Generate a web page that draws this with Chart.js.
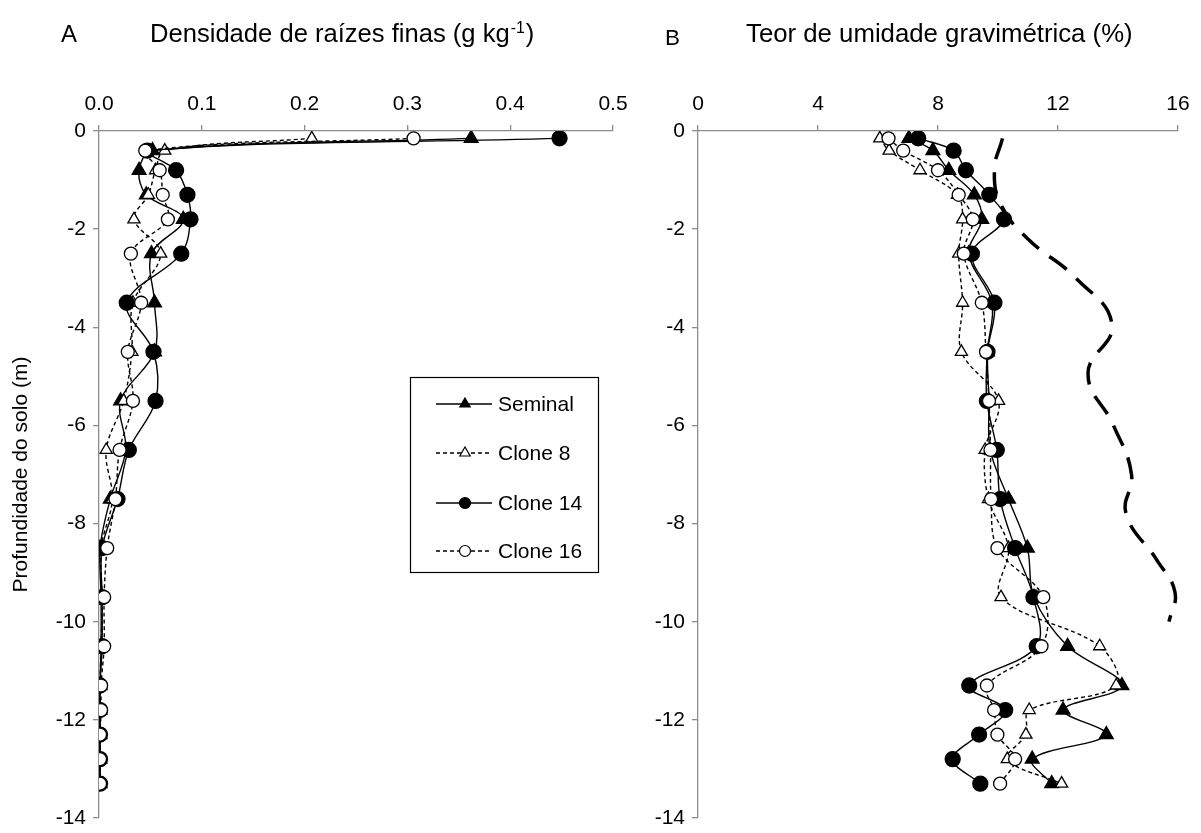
<!DOCTYPE html>
<html>
<head>
<meta charset="utf-8">
<script src="https://cdn.jsdelivr.net/npm/chart.js@4.4.1/dist/chart.umd.min.js"></script>
<style>
html, body { margin: 0; padding: 0; background: #fff; }
#chartA { position: absolute; left: 0; top: 0; }
#chartB { position: absolute; left: 640px; top: 0; }
</style>
</head>
<body>
<canvas id="chartA" width="640" height="833"></canvas>
<canvas id="chartB" width="561" height="833"></canvas>
<script>
// profundidades (m)
var depths = [-0.15, -0.4, -0.8, -1.3, -1.8, -2.5, -3.5, -4.5, -5.5, -6.5, -7.5, -8.5, -9.5, -10.5, -11.3, -11.8, -12.3, -12.8, -13.3];

// A - densidade de raizes finas (g kg-1)
var seminalA = [0.362, 0.052, 0.039, 0.046, 0.082, 0.051, 0.054, 0.054, 0.021, 0.026, 0.011, 0.001, 0.002, 0.002, 0.001, 0.001, 0.001, 0.001, 0.001];
var clone8A  = [0.207, 0.064, 0.055, 0.048, 0.034, 0.060, 0.033, 0.032, 0.024, 0.007, 0.013, 0.002, 0.003, 0.002, 0.001, 0.001, 0.001, 0.001, 0.001];
var clone14A = [0.448, 0.047, 0.075, 0.086, 0.089, 0.080, 0.027, 0.053, 0.055, 0.029, 0.018, 0.003, 0.003, 0.003, 0.001, 0.001, 0.001, 0.001, 0.001];
var clone16A = [0.306, 0.045, 0.059, 0.062, 0.067, 0.031, 0.041, 0.028, 0.033, 0.020, 0.016, 0.008, 0.005, 0.005, 0.002, 0.002, 0.001, 0.001, 0.001];

// B - umidade gravimetrica (%)
var seminalB = [7.03, 7.83, 8.36, 9.21, 9.46, 9.02, 9.80, 9.65, 9.70, 9.74, 10.35, 10.98, 11.20, 12.32, 14.13, 12.17, 13.61, 11.14, 11.79];
var clone8B  = [6.06, 6.37, 7.40, 8.65, 8.82, 8.69, 8.82, 8.78, 10.02, 9.57, 9.68, 10.35, 10.10, 13.39, 13.94, 11.04, 10.93, 10.31, 12.12];
var clone14B = [7.34, 8.52, 8.93, 9.71, 10.20, 9.13, 9.88, 9.65, 9.63, 9.96, 10.07, 10.57, 11.18, 11.29, 9.04, 10.24, 9.37, 8.49, 9.41];
var clone16B = [6.35, 6.84, 8.00, 8.69, 9.16, 8.86, 9.46, 9.60, 9.70, 9.75, 9.77, 9.98, 11.51, 11.45, 9.63, 9.87, 9.98, 10.57, 10.07];

// curva tracejada (sem legenda)
var curveX = [10.15, 9.88, 10.1, 11.0, 12.6, 13.8, 13.0, 13.85, 14.45, 14.27, 15.3, 15.9, 15.7];
var curveY = [-0.15, -0.8, -1.5, -2.2, -3.0, -3.95, -4.95, -6.0, -7.0, -7.8, -8.75, -9.4, -10.0];

var ticksA = [0, 0.1, 0.2, 0.3, 0.4, 0.5];
var ticksB = [0, 4, 8, 12, 16];
var ticksY = [0, -2, -4, -6, -8, -10, -12, -14];

var seriesNames = ['Seminal', 'Clone 8', 'Clone 14', 'Clone 16'];

var FONT = "'Liberation Sans', Arial, sans-serif";

function toPoints(xs, ys) {
    return xs.map(function(v, i) { return {x: v, y: ys[i]}; });
}

// estilo de cada serie
var styles = [
    {pointStyle: 'triangle', radius: 8, fill: '#000', dash: []},
    {pointStyle: 'triangle', radius: 7, fill: '#fff', dash: [4, 3]},
    {pointStyle: 'circle', radius: 7.5, fill: '#000', dash: []},
    {pointStyle: 'circle', radius: 6.5, fill: '#fff', dash: [4, 3]}
];

function makeDataset(i, xs) {
    var s = styles[i];
    return {
        label: seriesNames[i],
        data: toPoints(xs, depths),
        showLine: true,
        tension: 0.35,
        borderColor: '#000',
        borderWidth: 1.4,
        borderDash: s.dash,
        pointStyle: s.pointStyle,
        pointRadius: s.radius,
        pointBackgroundColor: s.fill,
        pointBorderColor: '#000',
        pointBorderWidth: 1.3,
        order: 4 - i
    };
}

function drawFitted(ctx, text, x, y, targetW, align) {
    ctx.font = '20px ' + FONT;
    var size = 20 * targetW / ctx.measureText(text).width;
    ctx.font = size + 'px ' + FONT;
    ctx.textAlign = align || 'left';
    ctx.fillText(text, x, y);
    return size;
}

function drawMarker(ctx, style, r, x, y) {
    ctx.beginPath();
    if (style === 'triangle') {
        var a = 0;
        ctx.moveTo(x + Math.sin(a) * r, y - Math.cos(a) * r);
        a += 2 * Math.PI / 3;
        ctx.lineTo(x + Math.sin(a) * r, y - Math.cos(a) * r);
        a += 2 * Math.PI / 3;
        ctx.lineTo(x + Math.sin(a) * r, y - Math.cos(a) * r);
        ctx.closePath();
    } else {
        ctx.arc(x, y, r, 0, Math.PI * 2);
    }
    ctx.fill();
    ctx.stroke();
}

var textPluginA = {
    id: 'textA',
    afterDraw: function(chart) {
        var ctx = chart.ctx;
        ctx.save();
        ctx.fillStyle = '#000';
        ctx.textBaseline = 'alphabetic';
        drawFitted(ctx, 'A', 61, 42, 16);
        var main = 'Densidade de raízes finas (g kg';
        var size = drawFitted(ctx, main, 150, 42, 360);
        var w = ctx.measureText(main).width;
        ctx.font = (size * 0.62) + 'px ' + FONT;
        ctx.textAlign = 'left';
        ctx.fillText('-1', 150 + w + 1, 33);
        var w2 = ctx.measureText('-1').width;
        ctx.font = size + 'px ' + FONT;
        ctx.fillText(')', 150 + w + w2 + 2, 42);

        // legenda
        ctx.strokeStyle = '#000';
        ctx.lineWidth = 1.2;
        ctx.strokeRect(410.5, 377.5, 188, 195);
        var rows = [404, 453, 503, 551];
        for (var i = 0; i < 4; i++) {
            var s = styles[i];
            ctx.setLineDash(s.dash);
            ctx.lineWidth = 1.3;
            ctx.beginPath();
            ctx.moveTo(436, rows[i]);
            ctx.lineTo(492, rows[i]);
            ctx.stroke();
            ctx.setLineDash([]);
            ctx.fillStyle = s.fill;
            ctx.lineWidth = 1.2;
            drawMarker(ctx, s.pointStyle, s.pointStyle === 'triangle' ? 6 : 5.5, 465, rows[i]);
            ctx.fillStyle = '#000';
            ctx.font = '21px ' + FONT;
            ctx.textAlign = 'left';
            ctx.textBaseline = 'middle';
            ctx.fillText(seriesNames[i], 498, rows[i] + 1);
        }
        ctx.restore();
    }
};

var textPluginB = {
    id: 'textB',
    afterDraw: function(chart) {
        var ctx = chart.ctx;
        ctx.save();
        ctx.fillStyle = '#000';
        ctx.textBaseline = 'alphabetic';
        drawFitted(ctx, 'B', 25, 45, 15);
        drawFitted(ctx, 'Teor de umidade gravimétrica (%)', 106, 42, 387);
        ctx.restore();
    }
};

function axisX(min, max, list, fmt) {
    return {
        type: 'linear',
        position: 'top',
        min: min,
        max: max,
        afterBuildTicks: function(scale) {
            scale.ticks = list.map(function(v) { return {value: v}; });
        },
        afterFit: function(scale) { scale.height = 131; },
        ticks: {
            color: '#000',
            font: {size: 21, family: FONT},
            padding: 8,
            maxRotation: 0,
            callback: fmt
        },
        grid: {drawOnChartArea: false, drawTicks: true, tickLength: 6, color: '#8c8c8c', lineWidth: 1.3},
        border: {color: '#8c8c8c', width: 1.3}
    };
}

function axisY(width, withTitle) {
    return {
        type: 'linear',
        min: -14,
        max: 0,
        afterBuildTicks: function(scale) {
            scale.ticks = ticksY.map(function(v) { return {value: v}; });
        },
        afterFit: function(scale) {
            scale.width = width;
            scale.paddingTop = 0;
            scale.paddingBottom = 0;
        },
        ticks: {
            color: '#000',
            font: {size: 21, family: FONT},
            padding: 7
        },
        title: {
            display: withTitle,
            text: 'Profundidade do solo (m)',
            color: '#000',
            font: {size: 21, family: FONT},
            padding: {top: 9, bottom: 0}
        },
        grid: {drawOnChartArea: false, drawTicks: true, tickLength: 6, color: '#8c8c8c', lineWidth: 1.3},
        border: {color: '#8c8c8c', width: 1.3}
    };
}

var commonPlugins = {
    legend: {display: false},
    tooltip: {enabled: false},
    title: {display: false}
};

new Chart(document.getElementById('chartA').getContext('2d'), {
    type: 'scatter',
    data: {
        datasets: [
            makeDataset(0, seminalA),
            makeDataset(1, clone8A),
            makeDataset(2, clone14A),
            makeDataset(3, clone16A)
        ]
    },
    options: {
        responsive: false,
        animation: false,
        layout: {padding: {left: 0, right: 27, top: 0, bottom: 15}},
        plugins: commonPlugins,
        scales: {
            x: axisX(0, 0.5, ticksA, function(v) { return v.toFixed(1); }),
            y: axisY(99, true)
        }
    },
    plugins: [textPluginA]
});

var datasetsB = [
    makeDataset(0, seminalB),
    makeDataset(1, clone8B),
    makeDataset(2, clone14B),
    makeDataset(3, clone16B)
];
datasetsB.push({
    label: 'curva',
    data: toPoints(curveX, curveY),
    showLine: true,
    tension: 0.45,
    borderColor: '#000',
    borderWidth: 3.5,
    borderDash: [22, 13],
    pointRadius: 0,
    order: 10
});

new Chart(document.getElementById('chartB').getContext('2d'), {
    type: 'scatter',
    data: {datasets: datasetsB},
    options: {
        responsive: false,
        animation: false,
        layout: {padding: {left: 0, right: 23, top: 0, bottom: 15}},
        plugins: commonPlugins,
        scales: {
            x: axisX(0, 16, ticksB, function(v) { return String(v); }),
            y: axisY(58, false)
        }
    },
    plugins: [textPluginB]
});
</script>
</body>
</html>
